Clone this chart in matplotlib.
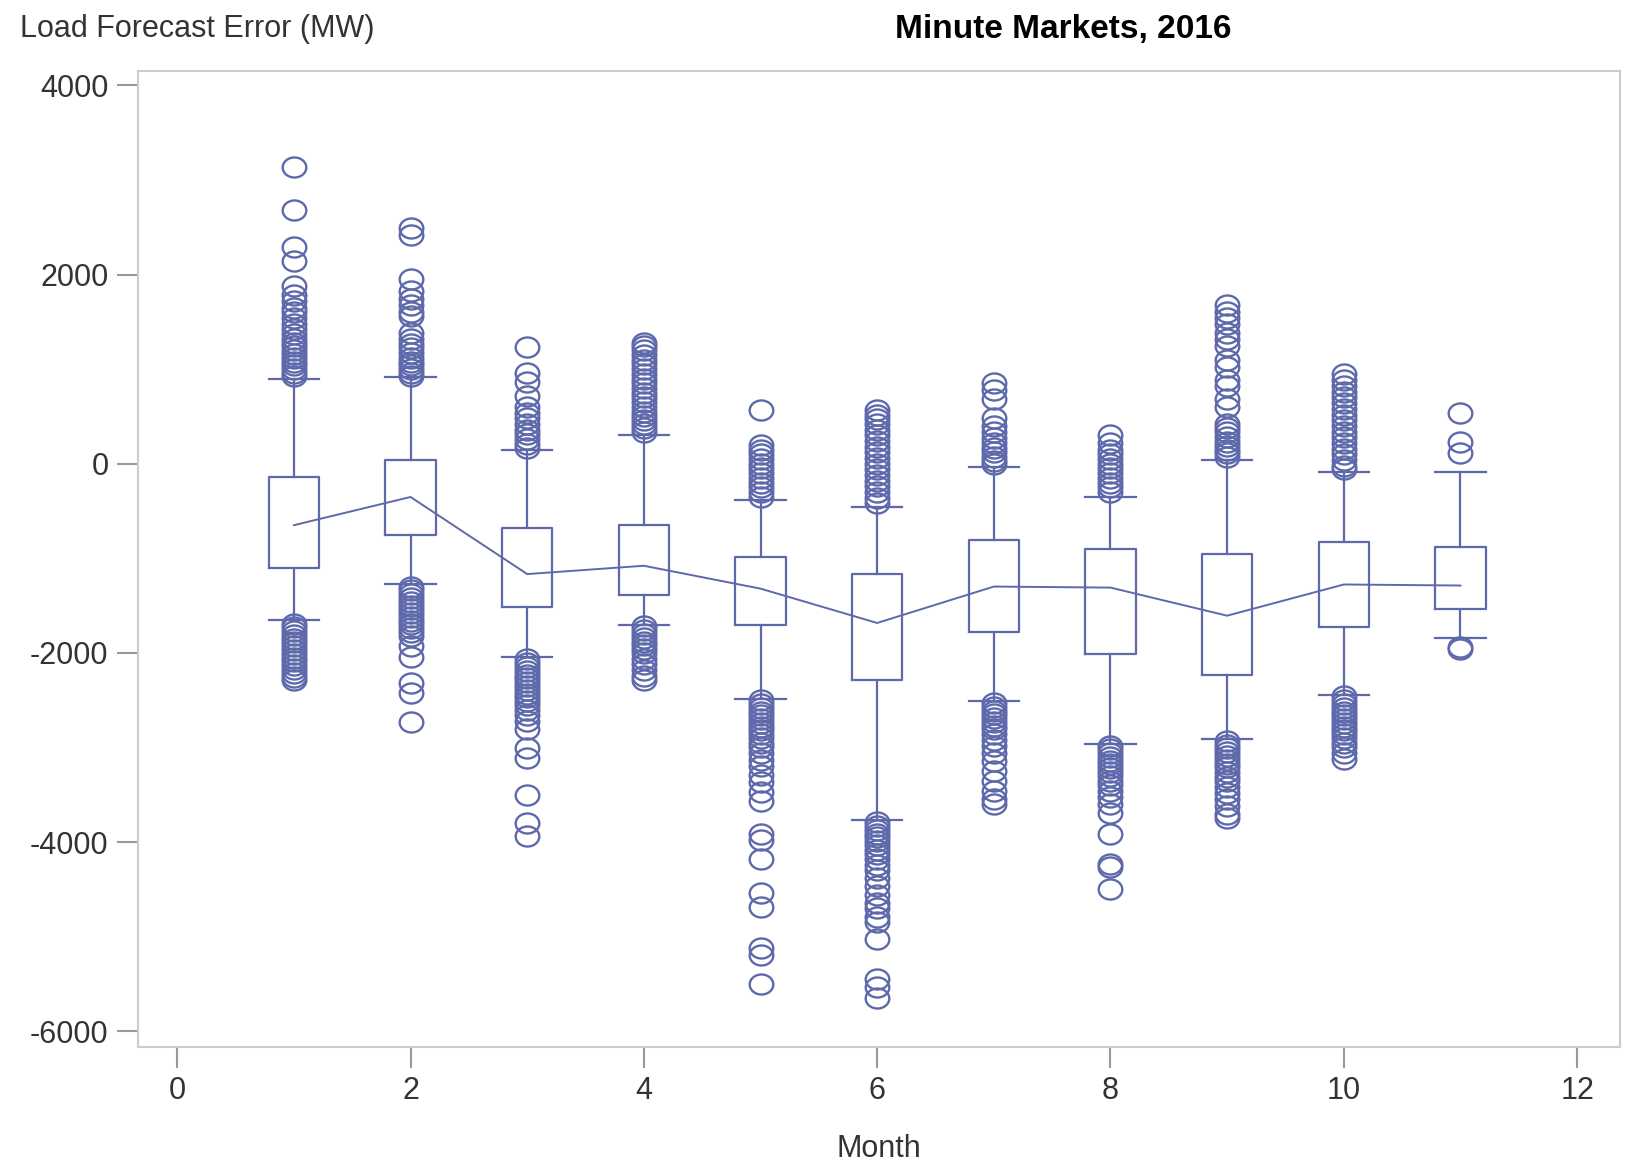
import matplotlib
matplotlib.use("Agg")
import matplotlib.pyplot as plt
from matplotlib.path import Path
from matplotlib.transforms import Affine2D

plt.rcParams['font.family'] = ['Liberation Sans', 'DejaVu Sans']
plt.rcParams['axes.unicode_minus'] = False

# values (MW)
months = [1, 2, 3, 4, 5, 6, 7, 8, 9, 10, 11]
q3 = [-143, 44, -683, -650, -991, -1167, -804, -903, -958, -826, -881]
q1 = [-1101, -749, -1519, -1387, -1706, -2290, -1784, -2015, -2235, -1729, -1541]
means = [-650, -352, -1167, -1079, -1321, -1684, -1299, -1310, -1607, -1277, -1288]
whislo = [-1652, -1277, -2048, -1706, -2488, -3765, -2510, -2962, -2907, -2444, -1839]
whishi = [892, 914, 143, 308, -385, -462, -33, -352, 44, -88, -88]

high_out = [
    [3138, 2686, 2290, 2140, 1880, 1780, 1720, 1650, 1600, 1540, 1480, 1420, 1370, 1320,
     1280, 1240, 1200, 1160, 1120, 1080, 1040, 1000, 960, 930],
    [2490, 2420, 1950, 1830, 1740, 1680, 1600, 1560, 1380, 1320, 1270, 1220, 1170, 1120,
     1080, 1040, 1000, 960, 930],
    [1233, 958, 860, 720, 600, 540, 480, 420, 360, 310, 260, 210, 170],
    [1280, 1240, 1200, 1150, 1100, 1050, 1000, 950, 900, 850, 800, 750, 700, 650, 600,
     550, 500, 460, 420, 380, 340],
    [570, 200, 150, 100, 50, 0, -50, -100, -150, -200, -250, -300, -350],
    [570, 520, 470, 420, 360, 300, 240, 180, 120, 60, 0, -60, -120, -180, -240, -300,
     -360, -420],
    [850, 780, 680, 480, 400, 330, 270, 220, 170, 120, 70, 30, 0],
    [300, 220, 150, 100, 50, 0, -50, -100, -150, -200, -250, -300],
    [1680, 1600, 1540, 1480, 1380, 1320, 1240, 1100, 1020, 880, 820, 680, 600, 420, 380,
     330, 280, 230, 190, 150, 110, 70],
    [950, 880, 820, 760, 700, 640, 580, 520, 460, 400, 340, 280, 220, 160, 100, 40, -20, -60],
    [540, 230, 110],
]
low_out = [
    [-1690, -1730, -1770, -1810, -1850, -1890, -1930, -1970, -2010, -2050, -2090, -2130,
     -2170, -2210, -2250, -2290],
    [-1300, -1340, -1380, -1420, -1460, -1500, -1540, -1580, -1620, -1660, -1700, -1740,
     -1780, -1820, -1930, -2040, -2320, -2420, -2730],
    [-2070, -2110, -2150, -2190, -2230, -2270, -2310, -2350, -2390, -2430, -2470, -2510,
     -2550, -2600, -2660, -2720, -2800, -3010, -3110, -3500, -3800, -3940],
    [-1720, -1760, -1800, -1840, -1880, -1920, -1960, -2000, -2060, -2120, -2180, -2240, -2290],
    [-2500, -2540, -2580, -2620, -2660, -2700, -2740, -2780, -2820, -2860, -2900, -2950,
     -3000, -3060, -3130, -3200, -3290, -3370, -3470, -3570, -3910, -3980, -4180, -4540,
     -4690, -5120, -5190, -5500],
    [-3790, -3830, -3870, -3910, -3950, -3990, -4030, -4080, -4130, -4180, -4240, -4300,
     -4380, -4460, -4560, -4640, -4700, -4790, -4850, -5030, -5450, -5530, -5650],
    [-2530, -2570, -2610, -2650, -2690, -2730, -2770, -2810, -2860, -2920, -2980, -3060,
     -3140, -3250, -3360, -3460, -3540, -3600],
    [-2980, -3020, -3060, -3100, -3140, -3180, -3220, -3260, -3300, -3350, -3400, -3460,
     -3520, -3600, -3690, -3910, -4230, -4260, -4500],
    [-2930, -2970, -3010, -3050, -3090, -3130, -3170, -3210, -3260, -3310, -3360, -3420,
     -3480, -3550, -3620, -3700, -3750],
    [-2460, -2500, -2540, -2580, -2620, -2660, -2700, -2740, -2780, -2820, -2860, -2900,
     -2950, -3000, -3060, -3120],
    [-1940, -1960],
]

col = '#5d69ab'
grey = '#333333'

# slightly wide open ellipse marker, like the original
ell = Affine2D().scale(1.12, 0.95).transform_path(Path.unit_circle())

stats = []
for i in range(len(months)):
    stats.append(dict(med=(q1[i] + q3[i]) / 2, q1=q1[i], q3=q3[i],
                      whislo=whislo[i], whishi=whishi[i],
                      fliers=high_out[i] + low_out[i]))

fig = plt.figure(figsize=(16.34, 11.67), dpi=100)
ax = fig.add_axes([0.0842, 0.103, 0.9074, 0.836])

ax.bxp(stats, positions=months, widths=0.43, showfliers=True,
       boxprops=dict(color=col, linewidth=1.6),
       whiskerprops=dict(color=col, linewidth=1.6),
       capprops=dict(color=col, linewidth=1.6),
       medianprops=dict(linewidth=0),
       flierprops=dict(marker=ell, markerfacecolor='none', markeredgecolor=col,
                       markersize=17, markeredgewidth=1.7),
       capwidths=0.43, manage_ticks=False)

ax.plot(months, means, color=col, linewidth=1.4)

ax.set_xlim(-0.34, 12.37)
ax.set_ylim(-6165, 4150)
ax.set_xticks(range(0, 13, 2))
ax.set_yticks(range(-6000, 4001, 2000))
ax.tick_params(labelsize=22, colors='#999999', labelcolor=grey, length=15, width=1.5, pad=6)
for s in ax.spines.values():
    s.set_color('#cccccc')
    s.set_linewidth(1.5)

ax.set_xlabel('Month', fontsize=22, color=grey, labelpad=20)
fig.text(0.012, 0.975, 'Load Forecast Error (MW)', fontsize=22, color=grey,
         ha='left', va='center')
fig.text(0.651, 0.975, 'Minute Markets, 2016', fontsize=24, fontweight='bold',
         ha='center', va='center')

fig.savefig('out.png', dpi=100)
